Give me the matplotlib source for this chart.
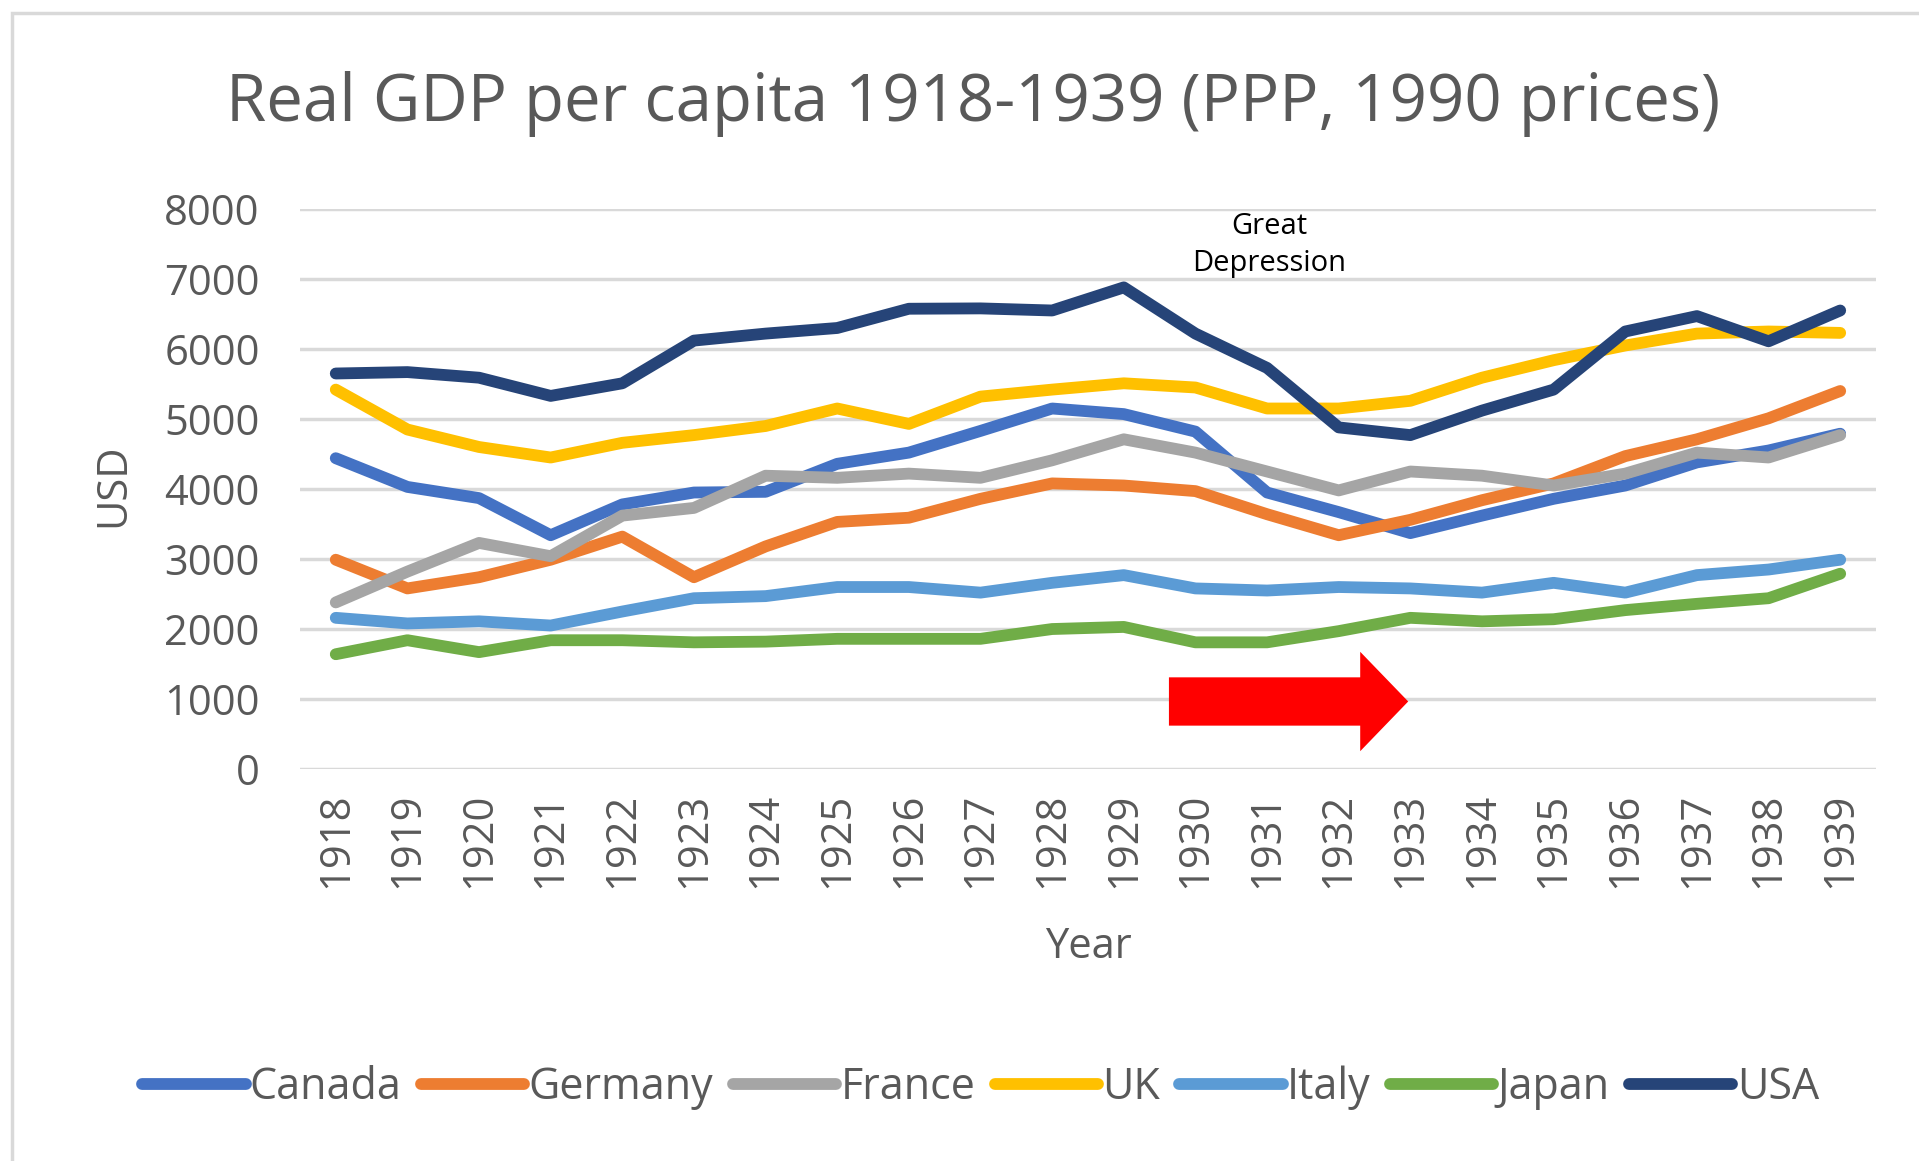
import matplotlib.pyplot as plt
from matplotlib.patches import Rectangle

plt.rcParams['font.family'] = ['Open Sans', 'DejaVu Sans']

# data (USD, PPP 1990 prices)
years = list(range(1918, 1940))
canada = [4440, 4030, 3870, 3340, 3780, 3950, 3960, 4360, 4520, 4830, 5150,
          5070, 4820, 3950, 3670, 3370, 3620, 3860, 4050, 4380, 4550, 4790]
germany = [2990, 2580, 2740, 2990, 3320, 2740, 3180, 3530, 3590, 3860, 4080,
           4050, 3970, 3640, 3340, 3560, 3840, 4080, 4470, 4710, 5010, 5400]
france = [2380, 2820, 3230, 3040, 3620, 3730, 4190, 4160, 4220, 4160, 4410,
          4710, 4520, 4250, 3980, 4250, 4190, 4050, 4220, 4520, 4450, 4770]
uk = [5420, 4850, 4600, 4450, 4660, 4770, 4900, 5150, 4930, 5320, 5420,
      5510, 5450, 5150, 5150, 5260, 5590, 5840, 6050, 6220, 6250, 6230]
italy = [2160, 2080, 2110, 2050, 2250, 2440, 2470, 2600, 2600, 2520, 2660,
         2770, 2580, 2550, 2600, 2580, 2520, 2660, 2520, 2770, 2850, 2990]
japan = [1640, 1840, 1670, 1840, 1840, 1810, 1820, 1860, 1860, 1860, 2000,
         2030, 1810, 1810, 1970, 2160, 2110, 2140, 2270, 2360, 2440, 2790]
usa = [5650, 5670, 5590, 5330, 5510, 6120, 6220, 6300, 6575, 6580, 6550,
       6880, 6220, 5730, 4880, 4770, 5120, 5420, 6250, 6470, 6110, 6550]

series = [
    ('Canada', canada, '#4472C4'),
    ('Germany', germany, '#ED7D31'),
    ('France', france, '#A5A5A5'),
    ('UK', uk, '#FFC000'),
    ('Italy', italy, '#5B9BD5'),
    ('Japan', japan, '#70AD47'),
    ('USA', usa, '#264478'),
]

# red arrow annotation
arrow_x0, arrow_x1, arrow_y = 1929.63, 1932.97, 965

txt = '#595959'
fig = plt.figure(figsize=(19.19, 11.61), dpi=100)
fig.patches.append(Rectangle((0.006, -0.05), 1.1, 1.039, transform=fig.transFigure,
                             fill=False, edgecolor='#D9D9D9', linewidth=2.5))
ax = fig.add_axes([0.1563, 0.3376, 0.8213, 0.4824])

for name, vals, col in series:
    ax.plot(years, vals, color=col, lw=8.5, label=name,
            solid_joinstyle='round', solid_capstyle='round')

ax.arrow(arrow_x0, arrow_y, arrow_x1 - arrow_x0, 0, width=690, head_width=1420,
         head_length=0.67, length_includes_head=True, color='#FF0000', lw=0)
ax.text(1931.03, 7490, 'Great\nDepression', ha='center', va='center',
        fontsize=21, color='black', linespacing=1.35)

ax.set_xlim(1917.5, 1939.5)
ax.set_ylim(0, 8000)
ax.set_yticks(range(0, 8001, 1000))
ax.set_xticks(years)
ax.set_xticklabels([str(y) for y in years], rotation=90)
ax.grid(axis='y', color='#D9D9D9', lw=2.5)
ax.set_axisbelow(True)
for s in ax.spines.values():
    s.set_visible(False)
ax.tick_params(axis='both', length=0, labelsize=30, colors=txt)
ax.tick_params(axis='y', pad=29)
ax.tick_params(axis='x', pad=17)

ax.set_xlabel('Year', fontsize=30, color=txt, labelpad=27)
fig.text(0.059, 0.582, 'USD', rotation=90, ha='center', va='center',
         fontsize=30, color=txt)
fig.text(0.507, 0.910, 'Real GDP per capita 1918-1939 (PPP, 1990 prices)',
         ha='center', va='center', fontsize=47, color=txt)

leg = fig.legend(loc='center', bbox_to_anchor=(0.511, 0.063), ncol=7, frameon=False,
                 fontsize=31, handlelength=2.4, handletextpad=0.1, columnspacing=0.45)
for t in leg.get_texts():
    t.set_color(txt)

fig.savefig('out.png', dpi=100)
